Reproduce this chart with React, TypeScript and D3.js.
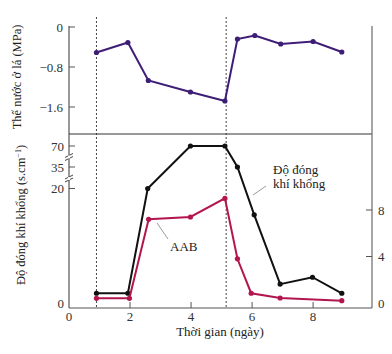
import React from "react";
import * as d3 from "d3";

const W = 392, H = 354;

const waterDays = [0.9, 1.93, 2.6, 3.98, 5.11, 5.52, 6.09, 6.94, 8.0, 8.94];
const waterVals = [-0.51, -0.31, -1.07, -1.3, -1.48, -0.24, -0.17, -0.34, -0.29, -0.5];

const condDays = [0.9, 1.93, 2.58, 3.98, 5.11, 5.52, 6.07, 6.92, 7.98, 8.94];
const condVals = [1.7, 1.7, 20, 70, 70, 35, 15.4, 3.3, 4.5, 1.7];

const abaDays = [0.9, 1.98, 2.61, 3.98, 5.11, 5.52, 5.97, 6.92, 8.94];
const abaVals = [0.4, 0.4, 7.2, 7.4, 9.0, 3.8, 0.84, 0.43, 0.2];

const xTicks = [0, 2, 4, 6, 8];
const waterTicks = [0, -0.8, -1.6];
const condTicks = [0, 20, 35, 70];
const abaTicks = [0, 4, 8];
const stressDays = [0.9, 5.15];

const serif = "'Liberation Serif', 'DejaVu Serif', serif";

export default function App() {
  const x = d3.scaleLinear().domain([0, 9.93]).range([69, 372]);
  const yTop = d3.scaleLinear().domain([0, -2.14]).range([27, 134]);
  const yCond = d3.scaleLinear().domain([0, 20, 35, 70]).range([303, 188.5, 167, 146]);
  const yAba = d3.scaleLinear().domain([0, 8]).range([303, 210]);

  const topLine = d3.line<number>().x((_, i) => x(waterDays[i])).y((v) => yTop(v));
  const condLine = d3.line<number>().x((_, i) => x(condDays[i])).y((v) => yCond(v));
  const abaLine = d3.line<number>().x((_, i) => x(abaDays[i])).y((v) => yAba(v));

  const purple = "#3e1d77";
  const red = "#b3164e";
  const axisCol = "#555";
  const fs = 13;

  const left = x(0), right = x(9.93);
  const breakY = [156.5, 178];

  return (
    <svg width={W} height={H} style={{ position: "absolute", left: 0, top: 0, background: "#fff" }} fontFamily={serif}>
      {/* stress dashed lines */}
      {stressDays.map((d) => (
        <line key={d} x1={x(d)} x2={x(d)} y1={17} y2={308} stroke="#444" strokeWidth={1} strokeDasharray="2,2" />
      ))}

      {/* top panel axes */}
      <line x1={left} x2={left} y1={26} y2={134} stroke={axisCol} strokeWidth={1.2} />
      <line x1={right} x2={right} y1={26} y2={134} stroke="#888" strokeWidth={1.5} />
      <line x1={left} x2={right} y1={134} y2={134} stroke="#333" strokeWidth={1.2} />
      {waterTicks.map((t) => (
        <g key={t}>
          <line x1={left} x2={left + 6} y1={yTop(t)} y2={yTop(t)} stroke={axisCol} />
          <text x={63} y={yTop(t)} dy="0.35em" textAnchor="end" fontSize={fs} fill="#333">
            {t === 0 ? "0" : "\u2212" + Math.abs(t).toFixed(1)}
          </text>
        </g>
      ))}
      <text transform={`translate(21,77) rotate(-90)`} textAnchor="middle" fontSize={12.5} fill="#222">
        Thế nước ở lá (MPa)
      </text>

      {/* bottom panel axes */}
      <line x1={left} x2={left} y1={134} y2={308} stroke={axisCol} strokeWidth={1.2} />
      <line x1={right} x2={right} y1={134} y2={308} stroke="#888" strokeWidth={1.5} />
      <line x1={left} x2={right} y1={308} y2={308} stroke={axisCol} strokeWidth={1.2} />
      {condTicks.map((t) => (
        <g key={t}>
          {t > 0 && <line x1={left} x2={left + 6} y1={yCond(t)} y2={yCond(t)} stroke={axisCol} />}
          <text x={64} y={yCond(t)} dy="0.35em" textAnchor="end" fontSize={fs} fill="#333">
            {t}
          </text>
        </g>
      ))}
      {breakY.map((by) => (
        <g key={by}>
          <line x1={left - 4} x2={left + 4} y1={by + 1} y2={by - 3} stroke="#444" />
          <line x1={left - 4} x2={left + 4} y1={by + 4} y2={by} stroke="#444" />
          <line x1={left} x2={left} y1={by - 1} y2={by + 2} stroke="#fff" strokeWidth={2} />
        </g>
      ))}
      {abaTicks.map((t) => (
        <g key={t}>
          {t > 0 && <line x1={right - 6} x2={right} y1={yAba(t)} y2={yAba(t)} stroke={axisCol} />}
          <text x={378} y={yAba(t)} dy="0.35em" textAnchor="start" fontSize={fs} fill="#333">
            {t}
          </text>
        </g>
      ))}
      {xTicks.map((t) => (
        <g key={t}>
          {t > 0 && <line x1={x(t)} x2={x(t)} y1={308} y2={302} stroke={axisCol} />}
          <text x={x(t)} y={321} textAnchor="middle" fontSize={fs} fill="#333">
            {t}
          </text>
        </g>
      ))}
      <text x={220} y={336} textAnchor="middle" fontSize={13} fill="#222">
        Thời gian (ngày)
      </text>
      <text transform={`translate(25,215) rotate(-90)`} textAnchor="middle" fontSize={12.5} fill="#222">
        Độ đóng khí khổng (s.cm<tspan dy="-4" fontSize={8}>−1</tspan><tspan dy="4">)</tspan>
      </text>

      {/* series */}
      <path d={topLine(waterVals) || ""} fill="none" stroke={purple} strokeWidth={2} />
      {waterVals.map((v, i) => (
        <circle key={i} cx={x(waterDays[i])} cy={yTop(v)} r={2.6} fill={purple} />
      ))}
      <path d={condLine(condVals) || ""} fill="none" stroke="#111" strokeWidth={2} />
      {condVals.map((v, i) => (
        <circle key={i} cx={x(condDays[i])} cy={yCond(v)} r={2.6} fill="#111" />
      ))}
      <path d={abaLine(abaVals) || ""} fill="none" stroke={red} strokeWidth={2} />
      {abaVals.map((v, i) => (
        <circle key={i} cx={x(abaDays[i])} cy={yAba(v)} r={2.6} fill={red} />
      ))}

      {/* annotations */}
      <line x1={253} y1={195} x2={266} y2={186} stroke="#999" strokeWidth={1} />
      <text x={273} y={174} fontSize={13} fill="#222">Độ đóng</text>
      <text x={273} y={188} fontSize={13} fill="#222">khí khổng</text>
      <line x1={157} y1={223} x2={168} y2={239} stroke="#999" strokeWidth={1} />
      <text x={170} y={251} fontSize={13} fill="#222">AAB</text>
    </svg>
  );
}
